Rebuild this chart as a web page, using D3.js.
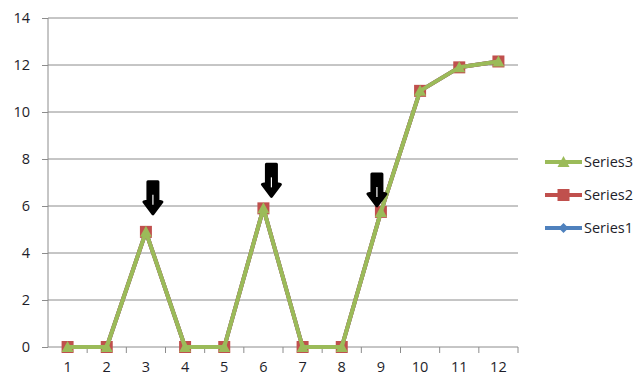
<!DOCTYPE html>
<html>
<head>
<meta charset="utf-8">
<script src="https://cdn.jsdelivr.net/npm/d3@7"></script>
<style>
body { margin: 0; background: #fff; }
text { font-family: "Open Sans", "Liberation Sans", sans-serif; font-size: 14.5px; fill: #1e1e2a; }
</style>
</head>
<body>
<script>
// data
const categories = [1, 2, 3, 4, 5, 6, 7, 8, 9, 10, 11, 12];
const series1 = [0, 0, 4.9, 0, 0, 5.9, 0, 0, 5.75, 10.9, 11.9, 12.15];
const series2 = [0, 0, 4.9, 0, 0, 5.9, 0, 0, 5.75, 10.9, 11.9, 12.15];
const series3 = [0, 0, 4.9, 0, 0, 5.9, 0, 0, 5.75, 10.9, 11.9, 12.15];
const yTicks = [0, 2, 4, 6, 8, 10, 12, 14];
const arrowCats = [3, 6, 9];

const W = 641, H = 379;
const margin = {top: 18, left: 48, right: 123, bot: 32};
const svg = d3.select("body").append("svg").attr("width", W).attr("height", H);

const x = d3.scaleBand().domain(categories).range([margin.left, W - margin.right]);
const y = d3.scaleLinear().domain([0, 14]).range([H - margin.bot, margin.top]);

// gridlines
svg.append("g").selectAll("line").data(yTicks.filter(d => d > 0)).enter().append("line")
	.attr("x1", margin.left).attr("x2", W - margin.right)
	.attr("y1", d => y(d)).attr("y2", d => y(d))
	.attr("stroke", "#8c8c8c").attr("stroke-width", 1);

// y axis
const yAxis = svg.append("g").attr("transform", `translate(${margin.left},0)`)
	.call(d3.axisLeft(y).tickValues(yTicks).tickSize(6).tickPadding(12));
yAxis.select(".domain").attr("stroke", "#8c8c8c").attr("d", `M0,${y(0)}V${y(14)}`);
yAxis.selectAll(".tick line").attr("stroke", "#8c8c8c");
yAxis.selectAll(".tick text").style("font-size", "14.5px").style("font-family", null);

// x axis, ticks between categories
const xg = svg.append("g").attr("transform", `translate(0,${y(0)})`);
xg.append("line").attr("x1", margin.left).attr("x2", W - margin.right)
	.attr("stroke", "#8c8c8c");
xg.selectAll(".tk").data(categories).enter().append("line")
	.attr("x1", d => x(d) + x.bandwidth()).attr("x2", d => x(d) + x.bandwidth())
	.attr("y1", 0).attr("y2", 6).attr("stroke", "#8c8c8c");
xg.selectAll("text").data(categories).enter().append("text")
	.attr("x", d => x(d) + x.bandwidth() / 2).attr("y", 25)
	.attr("text-anchor", "middle").text(d => d);

const cx = (d, i) => x(categories[i]) + x.bandwidth() / 2;
const line = d3.line().x(cx).y(d => y(d));

const series = [
	{name: "Series1", vals: series1, color: "#4F81BD", mark: "diamond"},
	{name: "Series2", vals: series2, color: "#C0504D", mark: "square"},
	{name: "Series3", vals: series3, color: "#9BBB59", mark: "triangle"}
];

const markPath = (m) => {
	if (m === "diamond") return "M0,-5L5,0L0,5L-5,0Z";
	if (m === "square") return "M-6,-6H6V6H-6Z";
	return "M0,-6L6,5H-6Z";
};

series.forEach(s => {
	svg.append("path").datum(s.vals).attr("d", line)
		.attr("fill", "none").attr("stroke", s.color).attr("stroke-width", 4)
		.attr("stroke-linejoin", "round");
	svg.append("g").selectAll("path").data(s.vals).enter().append("path")
		.attr("transform", (d, i) => `translate(${cx(d, i)},${y(d)})`)
		.attr("d", markPath(s.mark)).attr("fill", s.color);
});

// black hand-drawn arrows
const arrowOff = {3: [7, -18], 6: [8, -12], 9: [-4, -6]};
const arrow = svg.append("g").selectAll("g").data(arrowCats).enter().append("g")
	.attr("transform", d => {
		const i = categories.indexOf(d);
		return `translate(${cx(series3[i], i) + arrowOff[d][0]},${y(series3[i]) + arrowOff[d][1]})`;
	});
arrow.append("path")
	.attr("d", "M0,0L-9,-12L-5,-13L-5,-32L5,-32L5,-13L9,-12Z")
	.attr("fill", "#000").attr("stroke", "#000").attr("stroke-width", 3)
	.attr("stroke-linejoin", "round");
arrow.append("line").attr("x1", 0).attr("x2", 0).attr("y1", -19).attr("y2", -9)
	.attr("stroke", "#fff").attr("stroke-width", 1.2);

// legend
const leg = svg.append("g").selectAll("g").data(series.slice().reverse()).enter().append("g")
	.attr("transform", (d, i) => `translate(545,${162 + i * 33})`);
leg.append("line").attr("x1", 0).attr("x2", 37)
	.attr("stroke", d => d.color).attr("stroke-width", 4);
leg.append("path").attr("transform", "translate(18.5,0)")
	.attr("d", d => markPath(d.mark)).attr("fill", d => d.color);
leg.append("text").attr("x", 39).attr("y", 5).text(d => d.name);
</script>
</body>
</html>
